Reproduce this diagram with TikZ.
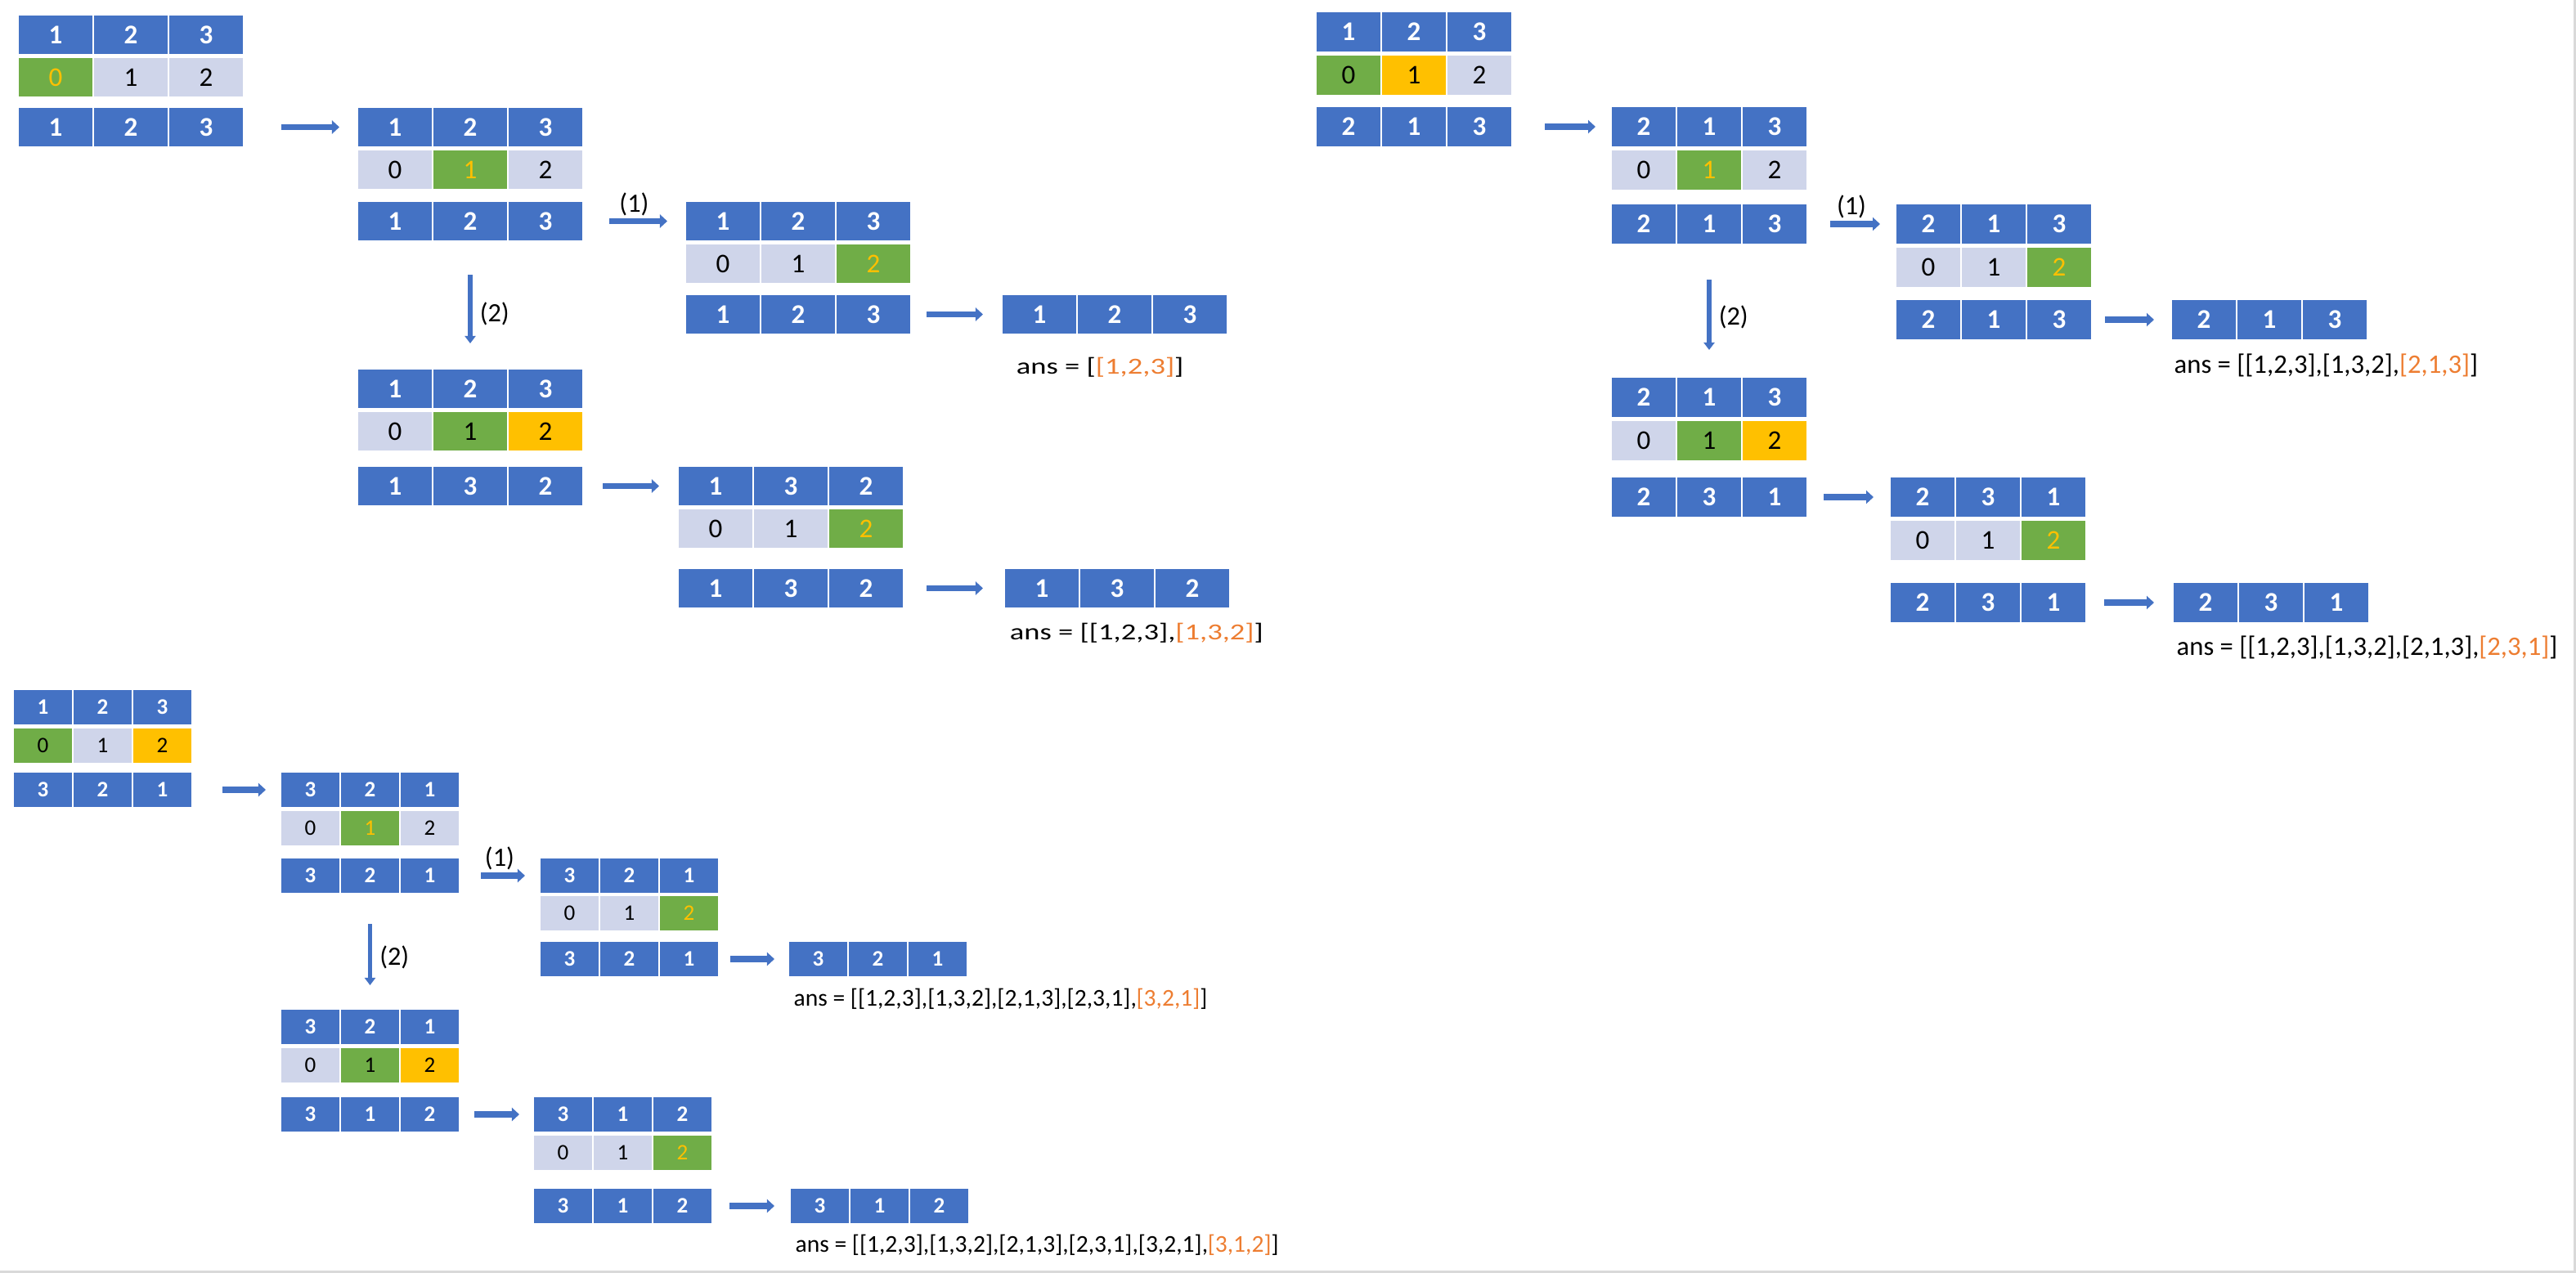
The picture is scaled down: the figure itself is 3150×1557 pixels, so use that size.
\documentclass[tikz,border=0pt]{standalone}
\usepackage{fontspec}
\setmainfont{Carlito}
\usetikzlibrary{arrows.meta}

\definecolor{cellblue}{HTML}{4472C4}
\definecolor{cellgrey}{HTML}{CFD5EA}
\definecolor{cellgreen}{HTML}{70AD47}
\definecolor{cellgold}{HTML}{FFC000}
\definecolor{ansorange}{HTML}{ED7D31}

% one row of three cells, left edge #2, top edge #3
\newcommand{\numrow}[4]{%
  \foreach \dg [count=\k from 0] in {#4}
    \node[numcell] (#1-\k) at ({#2+(\k+.5)*\cw},{#3+\ch/2}) {\dg};}
\newcommand{\idxrow}[4]{%
  \foreach \fc/\tc [count=\k from 0] in {#4}
    \node[idxcell, fill=\fc, text=\tc] (#1-\k) at ({#2+(\k+.5)*\cw},{#3+\ch/2}) {\k};}

\begin{document}
\begin{tikzpicture}[x=0.01cm, y=-0.01cm,
   numcell/.style={fill=cellblue, draw=white, line width=0.02cm, text=white,
      font=\cellfont\bfseries, inner sep=0,
      minimum width=\cw*0.01cm, minimum height=\ch*0.01cm},
   idxcell/.style={draw=white, line width=0.02cm, font=\cellfont, inner sep=0,
      minimum width=\cw*0.01cm, minimum height=\ch*0.01cm},
   flow/.style={cellblue, line width=0.075cm, -{Triangle[length=0.09cm, width=0.16cm]}},
   drop/.style={cellblue, line width=0.055cm, -{Triangle[length=0.09cm, width=0.13cm]}},
   lbl/.style={text=black, font=\fontsize{9.2}{11}\selectfont, inner sep=0},
   ans/.style={anchor=west, inner sep=0}]
\useasboundingbox (0,0) rectangle (3150,1557);
\draw[black!15, line width=0.03cm] (0,1555) -- (3148,1555) -- (3148,0);

% first digit 1
\begin{scope}
\def\cw{92}\def\ch{49}\def\cellfont{\fontsize{9.4}{11}\selectfont}
\numrow{p1at}{22}{18}{1,2,3}
\idxrow{p1ai}{22}{70}{cellgreen/cellgold, cellgrey/black, cellgrey/black}
\numrow{p1ap}{22}{131}{1,2,3}
\numrow{p1bt}{437}{131}{1,2,3}
\idxrow{p1bi}{437}{183}{cellgrey/black, cellgreen/cellgold, cellgrey/black}
\numrow{p1bp}{437}{246}{1,2,3}
\numrow{p1ct}{838}{246}{1,2,3}
\idxrow{p1ci}{838}{298}{cellgrey/black, cellgrey/black, cellgreen/cellgold}
\numrow{p1cp}{838}{360}{1,2,3}
\numrow{p1r1}{1225}{360}{1,2,3}
\numrow{p1dt}{437}{451}{1,2,3}
\idxrow{p1di}{437}{503}{cellgrey/black, cellgreen/black, cellgold/black}
\numrow{p1dp}{437}{570}{1,3,2}
\numrow{p1et}{829}{570}{1,3,2}
\idxrow{p1ei}{829}{622}{cellgrey/black, cellgrey/black, cellgreen/cellgold}
\numrow{p1ep}{829}{695}{1,3,2}
\numrow{p1r2}{1228}{695}{1,3,2}
\draw[flow, shorten <=0.45cm, shorten >=0.21cm] (p1ap-2) -- (p1bt-0);
\draw[flow, shorten <=0.31cm, shorten >=0.21cm] (p1bp-2) -- node[lbl, above=0.03cm] {(1)} (p1ct-0);
\draw[flow, shorten <=0.18cm, shorten >=0.22cm] (p1cp-2) -- (p1r1-0);
\draw[drop, shorten <=0.40cm, shorten >=0.30cm] (p1bp-1) -- node[lbl, right=0.09cm, pos=.57] {(2)} (p1dt-1);
\draw[flow, shorten <=0.23cm, shorten >=0.22cm] (p1dp-2) -- (p1et-0);
\draw[flow, shorten <=0.27cm, shorten >=0.25cm] (p1ep-2) -- (p1r2-0);
\node[ans, font=\fontsize{8}{10}\selectfont, xscale=1.3] (p1ans1) at (1242,449)
   {ans = [\textcolor{ansorange}{[1,2,3]}]};
\node[ans, font=\fontsize{8}{10}\selectfont, xscale=1.3] (p1ans2) at (1234,774)
   {ans = [[1,2,3],\textcolor{ansorange}{[1,3,2]}]};
\end{scope}

% first digit 2
\begin{scope}
\def\cw{80}\def\ch{50}\def\cellfont{\fontsize{9.4}{11}\selectfont}
\numrow{p2at}{1609}{14}{1,2,3}
\idxrow{p2ai}{1609}{67}{cellgreen/black, cellgold/black, cellgrey/black}
\numrow{p2ap}{1609}{130}{2,1,3}
\numrow{p2bt}{1970}{130}{2,1,3}
\idxrow{p2bi}{1970}{183}{cellgrey/black, cellgreen/cellgold, cellgrey/black}
\numrow{p2bp}{1970}{249}{2,1,3}
\numrow{p2ct}{2318}{249}{2,1,3}
\idxrow{p2ci}{2318}{302}{cellgrey/black, cellgrey/black, cellgreen/cellgold}
\numrow{p2cp}{2318}{366}{2,1,3}
\numrow{p2r1}{2655}{366}{2,1,3}
\numrow{p2dt}{1970}{461}{2,1,3}
\idxrow{p2di}{1970}{514}{cellgrey/black, cellgreen/black, cellgold/black}
\numrow{p2dp}{1970}{583}{2,3,1}
\numrow{p2et}{2311}{583}{2,3,1}
\idxrow{p2ei}{2311}{636}{cellgrey/black, cellgrey/black, cellgreen/cellgold}
\numrow{p2ep}{2311}{712}{2,3,1}
\numrow{p2r2}{2657}{712}{2,3,1}
\draw[flow, shorten <=0.39cm, shorten >=0.18cm] (p2ap-2) -- (p2bt-0);
\draw[flow, shorten <=0.27cm, shorten >=0.18cm] (p2bp-2) -- node[lbl, above=0.03cm] {(1)} (p2ct-0);
\draw[flow, shorten <=0.15cm, shorten >=0.20cm] (p2cp-2) -- (p2r1-0);
\draw[drop, shorten <=0.42cm, shorten >=0.32cm] (p2bp-1) -- node[lbl, right=0.09cm, pos=.55] {(2)} (p2dt-1);
\draw[flow, shorten <=0.19cm, shorten >=0.19cm] (p2dp-2) -- (p2et-0);
\draw[flow, shorten <=0.21cm, shorten >=0.22cm] (p2ep-2) -- (p2r2-0);
\node[ans, font=\fontsize{9.3}{11}\selectfont] (p2ans1) at (2658,447)
   {ans = [[1,2,3],[1,3,2],\textcolor{ansorange}{[2,1,3]}]};
\node[ans, font=\fontsize{9.3}{11}\selectfont] (p2ans2) at (2661,792)
   {ans = [[1,2,3],[1,3,2],[2,1,3],\textcolor{ansorange}{[2,3,1]}]};
\end{scope}

% first digit 3
\begin{scope}
\def\cw{73}\def\ch{44}\def\cellfont{\fontsize{7.7}{9}\selectfont}
\numrow{p3at}{16}{843}{1,2,3}
\idxrow{p3ai}{16}{890}{cellgreen/black, cellgrey/black, cellgold/black}
\numrow{p3ap}{16}{944}{3,2,1}
\numrow{p3bt}{343}{944}{3,2,1}
\idxrow{p3bi}{343}{991}{cellgrey/black, cellgreen/cellgold, cellgrey/black}
\numrow{p3bp}{343}{1049}{3,2,1}
\numrow{p3ct}{660}{1049}{3,2,1}
\idxrow{p3ci}{660}{1095}{cellgrey/black, cellgrey/black, cellgreen/cellgold}
\numrow{p3cp}{660}{1151}{3,2,1}
\numrow{p3r1}{964}{1151}{3,2,1}
\numrow{p3dt}{343}{1234}{3,2,1}
\idxrow{p3di}{343}{1281}{cellgrey/black, cellgreen/black, cellgold/black}
\numrow{p3dp}{343}{1341}{3,1,2}
\numrow{p3et}{652}{1341}{3,1,2}
\idxrow{p3ei}{652}{1388}{cellgrey/black, cellgrey/black, cellgreen/cellgold}
\numrow{p3ep}{652}{1453}{3,1,2}
\numrow{p3r2}{966}{1453}{3,1,2}
\draw[flow, shorten <=0.36cm, shorten >=0.17cm] (p3ap-2) -- (p3bt-0);
\draw[flow, shorten <=0.25cm, shorten >=0.17cm] (p3bp-2) -- node[lbl, above=0.03cm] {(1)} (p3ct-0);
\draw[flow, shorten <=0.13cm, shorten >=0.16cm] (p3cp-2) -- (p3r1-0);
\draw[drop, shorten <=0.36cm, shorten >=0.28cm] (p3bp-1) -- node[lbl, right=0.09cm, pos=.55] {(2)} (p3dt-1);
\draw[flow, shorten <=0.17cm, shorten >=0.16cm] (p3dp-2) -- (p3et-0);
\draw[flow, shorten <=0.20cm, shorten >=0.18cm] (p3ep-2) -- (p3r2-0);
\node[ans, font=\fontsize{8.4}{10}\selectfont] (p3ans1) at (970,1222)
   {ans = [[1,2,3],[1,3,2],[2,1,3],[2,3,1],\textcolor{ansorange}{[3,2,1]}]};
\node[ans, font=\fontsize{8.4}{10}\selectfont] (p3ans2) at (972,1523)
   {ans = [[1,2,3],[1,3,2],[2,1,3],[2,3,1],[3,2,1],\textcolor{ansorange}{[3,1,2]}]};
\end{scope}
\end{tikzpicture}
\end{document}
